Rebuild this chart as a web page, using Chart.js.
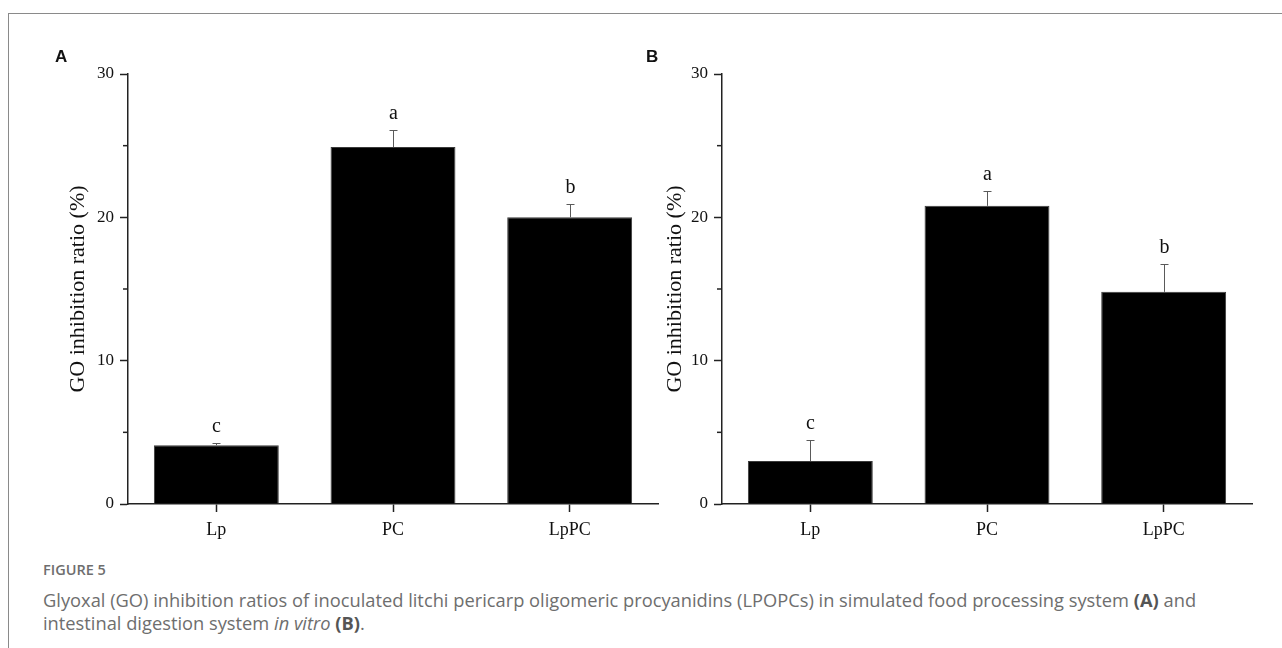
<!DOCTYPE html>
<html>
<head>
<meta charset="utf-8">
<script src="https://cdn.jsdelivr.net/npm/chart.js@4.4.1/dist/chart.umd.min.js"></script>
<style>
html,body{margin:0;padding:0;background:#fff;width:1282px;height:648px;overflow:hidden;position:relative;}
#frame{position:absolute;left:8px;top:13px;width:1400px;height:800px;border-left:1px solid #8a8a8a;border-top:1px solid #8a8a8a;}
.plabel{position:absolute;font-family:"Liberation Sans",Arial,sans-serif;font-weight:bold;font-size:17px;color:#111;line-height:20px;}
#cA{position:absolute;left:0;top:0;}
#cB{position:absolute;left:640px;top:0;}
#fig{position:absolute;left:43px;top:560px;font-family:"Open Sans",sans-serif;font-weight:600;font-size:14.5px;line-height:20px;color:#6e6e6e;}
#cap{position:absolute;left:43px;top:588px;font-family:"Open Sans",sans-serif;font-size:18px;line-height:23px;color:#6e6e6e;white-space:nowrap;}
#cap b{color:#555;font-weight:700;}
</style>
</head>
<body>
<div id="frame"></div>
<canvas id="cA" width="660" height="560"></canvas>
<canvas id="cB" width="642" height="560"></canvas>
<div class="plabel" style="left:55px;top:47px;">A</div>
<div class="plabel" style="left:646px;top:47px;">B</div>
<div id="fig">FIGURE 5</div>
<div id="cap"><span id="line1">Glyoxal (GO) inhibition ratios of inoculated litchi pericarp oligomeric procyanidins (LPOPCs) in simulated food processing system <b>(A)</b> and</span><br>intestinal digestion system <i>in vitro</i> <b>(B)</b>.</div>
<script>
const categories = ['Lp', 'PC', 'LpPC'];
const valuesA = [4.1, 24.9, 20.0];
const errorsA = [0.15, 1.2, 0.9];
const lettersA = ['c', 'a', 'b'];
const valuesB = [3.0, 20.8, 14.8];
const errorsB = [1.5, 1.05, 1.95];
const lettersB = ['c', 'a', 'b'];
const yTicks = [0, 10, 20, 30];
const yMinorTicks = [5, 15, 25];
const yTitle = 'GO inhibition ratio (%)';

const SERIF = '"Liberation Serif", "Times New Roman", serif';

// fit caption first line to the reference width
function fitCaption() {
  const cap = document.getElementById('cap');
  const l1 = document.getElementById('line1');
  cap.style.fontSize = '18px';
  const w = l1.getBoundingClientRect().width;
  if (w > 0) cap.style.fontSize = (18 * 1154 / w).toFixed(2) + 'px';
}
fitCaption();
if (document.fonts && document.fonts.ready) document.fonts.ready.then(fitCaption);

const annotPlugin = {
  id: 'annot',
  afterDatasetsDraw(chart, args, opts) {
    const ctx = chart.ctx;
    const ys = chart.scales.y;
    const meta = chart.getDatasetMeta(0);
    const ca = chart.chartArea;
    ctx.save();
    ctx.strokeStyle = '#222';
    ctx.lineWidth = 1.5;
    yMinorTicks.forEach(m => {
      const y = ys.getPixelForValue(m);
      ctx.beginPath();
      ctx.moveTo(ca.left - 5, y);
      ctx.lineTo(ca.left, y);
      ctx.stroke();
    });
    opts.values.forEach((v, i) => {
      const x = Math.round(meta.data[i].x) + 0.5;
      const yTop = ys.getPixelForValue(v);
      const yCap = Math.round(ys.getPixelForValue(v + opts.errors[i])) + 0.5;
      ctx.strokeStyle = '#5a5a5a';
      ctx.lineWidth = 1;
      ctx.beginPath();
      ctx.moveTo(x, yTop);
      ctx.lineTo(x, yCap);
      ctx.moveTo(x - 4, yCap);
      ctx.lineTo(x + 4, yCap);
      ctx.stroke();
      ctx.fillStyle = '#111';
      ctx.font = '20px ' + SERIF;
      ctx.textAlign = 'center';
      ctx.textBaseline = 'alphabetic';
      ctx.fillText(opts.letters[i], x, yCap - 12);
    });
    ctx.restore();
  }
};

function makeChart(id, values, errors, letters, yWidth, padRight, titlePad) {
  return new Chart(document.getElementById(id), {
    type: 'bar',
    data: {
      labels: categories,
      datasets: [{
        data: values,
        backgroundColor: '#000',
        borderColor: '#3a3a3a',
        borderWidth: 1,
        categoryPercentage: 1.0,
        barPercentage: 0.707
      }]
    },
    options: {
      responsive: false,
      animation: false,
      devicePixelRatio: 1,
      layout: { padding: { left: 0, top: 74, right: padRight, bottom: 0 } },
      plugins: {
        legend: { display: false },
        tooltip: { enabled: false },
        annot: { values: values, errors: errors, letters: letters }
      },
      scales: {
        x: {
          offset: true,
          grid: { display: true, drawOnChartArea: false, offset: false, drawTicks: true, tickLength: 8, tickColor: '#222', tickWidth: 1.5 },
          border: { display: true, color: '#222', width: 1.5 },
          ticks: { color: '#111', font: { family: SERIF, size: 18 }, padding: 7, maxRotation: 0 },
          afterFit: s => { s.height = 56; }
        },
        y: {
          min: 0, max: 30,
          afterBuildTicks: s => { s.ticks = yTicks.map(v => ({ value: v })); },
          grid: { display: true, drawOnChartArea: false, drawTicks: true, tickLength: 8, tickColor: '#222', tickWidth: 1.5 },
          border: { display: true, color: '#222', width: 1.5 },
          ticks: { color: '#111', font: { family: SERIF, size: 17 }, padding: 6 },
          title: { display: true, text: yTitle, color: '#111', font: { family: SERIF, size: 22 }, padding: { top: titlePad, bottom: 0 } },
          afterFit: s => { s.width = yWidth; }
        }
      }
    },
    plugins: [annotPlugin]
  });
}

makeChart('cA', valuesA, errorsA, lettersA, 128, 2, 64.8);
makeChart('cB', valuesB, errorsB, lettersB, 82, 30, 21.8);
</script>
</body>
</html>
